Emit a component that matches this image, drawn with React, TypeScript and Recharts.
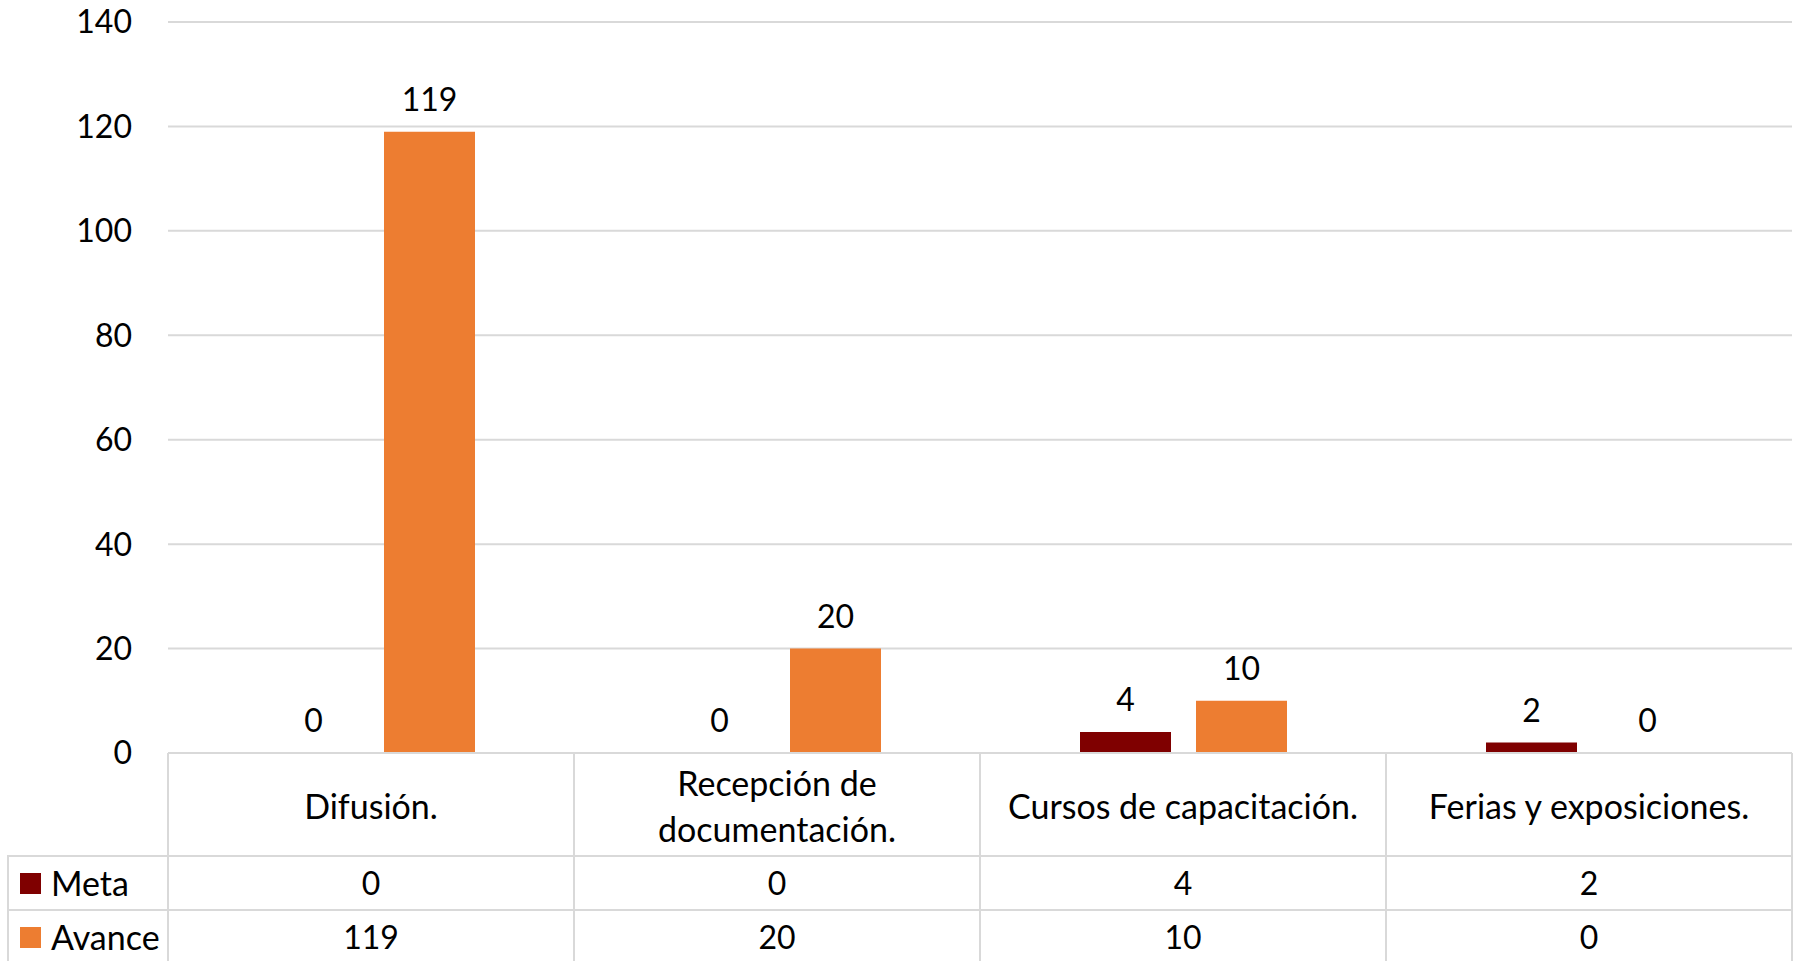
import { BarChart, Bar, XAxis, YAxis, CartesianGrid, LabelList, Legend, Text } from 'recharts';

const categories = ['Difusión.', 'Recepción de documentación.', 'Cursos de capacitación.', 'Ferias y exposiciones.'];
const meta = [0, 0, 4, 2];
const avance = [119, 20, 10, 0];
const yTicks = [0, 20, 40, 60, 80, 100, 120, 140];

const series = [
  { key: 'Meta', color: '#7f0000', values: meta },
  { key: 'Avance', color: '#ed7d31', values: avance },
];

const data = categories.map((name, i) => ({ name, Meta: meta[i], Avance: avance[i] }));

const W = 1795;
const H = 961;
const Y_AXIS_W = 168;
const RIGHT = 3;
const FONT = 'Lato, "Open Sans", sans-serif';
const FS = 32; // numbers
const FS_TEXT = 34; // words
const LINE = '#d9d9d9';
const CAT_ROW_H = 103;
const VAL_ROW_H = 54;
const LINE_H = 46;
const BAND = (W - Y_AXIS_W - RIGHT) / categories.length;

let ctx: CanvasRenderingContext2D | null = null;
function wrapWords(text: string, maxWidth: number): string[] {
  if (!ctx) ctx = document.createElement('canvas').getContext('2d');
  if (!ctx) return [text];
  ctx.font = `${FS_TEXT}px Lato`;
  const lines: string[] = [];
  let cur = '';
  for (const w of text.split(' ')) {
    const next = cur ? cur + ' ' + w : w;
    if (cur && ctx.measureText(next).width > maxWidth) {
      lines.push(cur);
      cur = w;
    } else {
      cur = next;
    }
  }
  if (cur) lines.push(cur);
  return lines;
}

function TableTick(props: any) {
  const { x, y, payload, index } = props;
  const left = x - BAND / 2;
  const right = x + BAND / 2;
  const rowLines = [y + CAT_ROW_H, y + CAT_ROW_H + VAL_ROW_H];
  const lines = wrapWords(String(payload.value), BAND - 40);
  const mid = y + CAT_ROW_H / 2 + 2;
  const firstBase = mid + FS_TEXT * 0.36 - ((lines.length - 1) * LINE_H) / 2;
  return (
    <g>
      <line x1={left} y1={y} x2={left} y2={y + 260} stroke={LINE} strokeWidth={2} />
      {index === categories.length - 1 && (
        <line x1={right} y1={y} x2={right} y2={y + 260} stroke={LINE} strokeWidth={2} />
      )}
      {rowLines.map((ry) => (
        <line key={ry} x1={left} y1={ry} x2={right} y2={ry} stroke={LINE} strokeWidth={2} />
      ))}
      <text textAnchor="middle" fontSize={FS_TEXT} fontFamily={FONT} fill="#000">
        {lines.map((ln, i) => (
          <tspan key={i} x={x} y={firstBase + i * LINE_H}>
            {ln}
          </tspan>
        ))}
      </text>
      {series.map((s, i) => (
        <Text
          key={s.key}
          x={x}
          y={y + CAT_ROW_H + VAL_ROW_H * (i + 0.5) + 1}
          textAnchor="middle"
          verticalAnchor="middle"
          fontSize={FS}
          fontFamily={FONT}
          fill="#000"
        >
          {String(s.values[index])}
        </Text>
      ))}
    </g>
  );
}

function LegendCells({ payload }: any) {
  const items = series
    .map((s) => (payload || []).find((p: any) => p.value === s.key))
    .filter(Boolean);
  return (
    <div style={{ width: Y_AXIS_W - 7, fontFamily: FONT, fontSize: FS_TEXT, color: '#000' }}>
      {items.map((p: any) => (
        <div
          key={p.value}
          style={{
            boxSizing: 'border-box',
            height: VAL_ROW_H,
            borderTop: `2px solid ${LINE}`,
            borderLeft: `2px solid ${LINE}`,
            paddingLeft: 11,
            display: 'flex',
            alignItems: 'center',
            lineHeight: 1,
          }}
        >
          <span style={{ width: 21, height: 21, background: p.color, marginRight: 10, display: 'inline-block' }} />
          <span>{p.value}</span>
        </div>
      ))}
    </div>
  );
}

export default function App() {
  return (
    <div style={{ position: 'absolute', left: 0, top: 0, fontFamily: FONT }}>
      <BarChart
        width={W}
        height={H}
        data={data}
        margin={{ top: 22, right: RIGHT, bottom: 0, left: 0 }}
        barSize={91}
        barGap={25}
      >
        <CartesianGrid vertical={false} stroke={LINE} strokeWidth={2} />
        <XAxis
          dataKey="name"
          height={H - 753}
          axisLine={{ stroke: LINE, strokeWidth: 2 }}
          tickLine={false}
          tickSize={0}
          tickMargin={0}
          interval={0}
          tick={<TableTick />}
        />
        <YAxis
          width={Y_AXIS_W}
          domain={[0, 140]}
          ticks={yTicks}
          axisLine={false}
          tickLine={false}
          tickSize={0}
          tickMargin={36}
          tick={{ fontSize: FS, fill: '#000', fontFamily: FONT }}
        />
        <Legend
          layout="horizontal"
          verticalAlign="middle"
          align="center"
          content={<LegendCells />}
          wrapperStyle={{ position: 'absolute', left: 7, top: 855, width: Y_AXIS_W - 7, height: 'auto' }}
        />
        {series.map((s) => (
          <Bar key={s.key} dataKey={s.key} fill={s.color} minPointSize={0.01} isAnimationActive={false}>
            <LabelList dataKey={s.key} position="top" offset={21} fontSize={FS} fill="#000" fontFamily={FONT} />
          </Bar>
        ))}
      </BarChart>
    </div>
  );
}
